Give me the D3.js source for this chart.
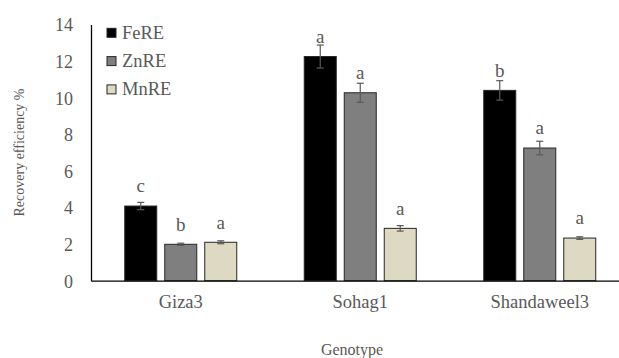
<!DOCTYPE html>
<html><head><meta charset="utf-8">
<script src="https://cdn.jsdelivr.net/npm/d3@7"></script>
<style>body{margin:0;background:#fff;}svg{display:block;} text{font-family:"Liberation Serif","Times New Roman",Times,"DejaVu Serif",serif;}</style>
</head><body>
<script>
const categories = ["Giza3", "Sohag1", "Shandaweel3"];
const series = ["FeRE", "ZnRE", "MnRE"];
const feRE = [4.08, 12.25, 10.4];
const znRE = [1.99, 10.27, 7.25];
const mnRE = [2.1, 2.86, 2.33];
const feErr = [0.2, 0.63, 0.53];
const znErr = [0.06, 0.52, 0.37];
const mnErr = [0.08, 0.15, 0.07];
const feLetters = ["c", "a", "b"];
const znLetters = ["b", "a", "a"];
const mnLetters = ["a", "a", "a"];
const yTicks = [0, 2, 4, 6, 8, 10, 12, 14];

const values = [feRE, znRE, mnRE];
const errs = [feErr, znErr, mnErr];
const letters = [feLetters, znLetters, mnLetters];
const colors = ["#000000", "#7f7f7f", "#ddd9c3"];
const textColor = "#595959";
const font = '"Liberation Serif","Times New Roman",Times,"DejaVu Serif",serif';

const W = 619, H = 358;
const svg = d3.select("body").append("svg").attr("width", W).attr("height", H);

const y = d3.scaleLinear().domain([0, 14]).range([280.7, 24.5]);
const x0 = d3.scaleBand().domain(categories).range([91, 629.5]).padding(0);
const x1 = d3.scaleBand().domain(series).range([-60, 60]).paddingInner(0.2).paddingOuter(0.1);

series.forEach((s, si) => {
  const g = svg.append("g");
  categories.forEach((c, ci) => {
    const cx = x0(c) + x0.bandwidth() / 2;
    const v = values[si][ci];
    const bx = cx + x1(s);
    g.append("rect")
      .attr("x", bx).attr("y", y(v))
      .attr("width", x1.bandwidth()).attr("height", y(0) - y(v))
      .attr("fill", colors[si])
      .attr("stroke", "#262626").attr("stroke-width", 1);
    const mx = bx + x1.bandwidth() / 2;
    const e = errs[si][ci];
    g.append("line").attr("x1", mx).attr("x2", mx).attr("y1", y(v + e)).attr("y2", y(v - e))
      .attr("stroke", "#595959").attr("stroke-width", 1.2);
    [v + e, v - e].forEach(t => {
      g.append("line").attr("x1", mx - 3.5).attr("x2", mx + 3.5).attr("y1", y(t)).attr("y2", y(t))
        .attr("stroke", "#595959").attr("stroke-width", 1.2);
    });
    g.append("text").attr("x", mx).attr("y", y(v) - 13.7)
      .attr("text-anchor", "middle").style("font-family", font).attr("font-size", 19)
      .attr("fill", textColor).text(letters[si][ci]);
  });
});

const yAxis = d3.axisLeft(y).tickValues(yTicks).tickSize(0).tickPadding(18);
const ya = svg.append("g").attr("transform", "translate(91,0)").call(yAxis);
ya.attr("font-family", null);
ya.select(".domain").attr("stroke", "#000").attr("stroke-width", 1.3);
ya.selectAll("text").style("font-family", font).attr("font-size", 18).attr("fill", textColor).attr("dy", "0.35em");

const xAxis = d3.axisBottom(x0).tickSize(0).tickPadding(14);
const xa = svg.append("g").attr("transform", `translate(0,${y(0)})`).call(xAxis);
xa.attr("font-family", null);
xa.select(".domain").attr("stroke", "#000").attr("stroke-width", 1.3);
xa.selectAll("text").style("font-family", font).attr("font-size", 18.5).attr("fill", textColor);

svg.append("text").attr("x", 352).attr("y", 355).attr("text-anchor", "middle")
  .style("font-family", font).attr("font-size", 16).attr("fill", textColor).text("Genotype");
svg.append("text").attr("transform", "translate(24,152.5) rotate(-90)").attr("text-anchor", "middle")
  .style("font-family", font).attr("font-size", 14).attr("fill", textColor).text("Recovery efficiency %");

series.forEach((s, si) => {
  const ly = 28.3 + si * 28.3;
  svg.append("rect").attr("x", 107).attr("y", ly).attr("width", 9).attr("height", 9)
    .attr("fill", colors[si]).attr("stroke", "#262626").attr("stroke-width", 1);
  svg.append("text").attr("x", 122).attr("y", ly + 10.5)
    .style("font-family", font).attr("font-size", 18.5).attr("fill", textColor).text(s);
});
</script>
</body></html>
